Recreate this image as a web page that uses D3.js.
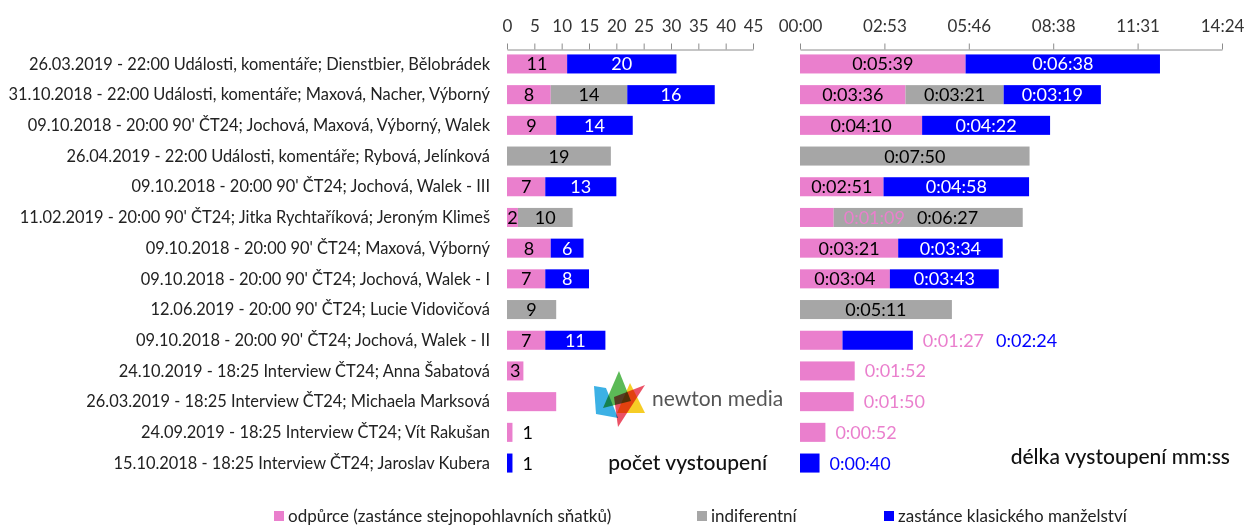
<!DOCTYPE html>
<html>
<head>
<meta charset="utf-8">
<title></title>
<script src="https://d3js.org/d3.v7.min.js"></script>
<style>
  body { margin: 0; background: #fff; font-family: Lato, "Open Sans", sans-serif; }
  svg { display: block; }
  .axis path, .axis line { stroke: #8c8c8c; stroke-width: 1; }
  .axis text { font-family: Lato, sans-serif; font-size: 17px; fill: #333; }
  .val { font-family: Lato, sans-serif; font-size: 18px; }
</style>
</head>
<body>
<script>
// categories (top to bottom)
const categories = [
  "26.03.2019 - 22:00 Události, komentáře; Dienstbier, Bělobrádek",
  "31.10.2018 - 22:00 Události, komentáře; Maxová, Nacher, Výborný",
  "09.10.2018 - 20:00 90' ČT24; Jochová, Maxová, Výborný, Walek",
  "26.04.2019 - 22:00 Události, komentáře; Rybová, Jelínková",
  "09.10.2018 - 20:00 90' ČT24; Jochová, Walek - III",
  "11.02.2019 - 20:00 90' ČT24; Jitka Rychtaříková; Jeroným Klimeš",
  "09.10.2018 - 20:00 90' ČT24; Maxová, Výborný",
  "09.10.2018 - 20:00 90' ČT24; Jochová, Walek - I",
  "12.06.2019 - 20:00 90' ČT24; Lucie Vidovičová",
  "09.10.2018 - 20:00 90' ČT24; Jochová, Walek - II",
  "24.10.2019 - 18:25 Interview ČT24; Anna Šabatová",
  "26.03.2019 - 18:25 Interview ČT24; Michaela Marksová",
  "24.09.2019 - 18:25 Interview ČT24; Vít Rakušan",
  "15.10.2018 - 18:25 Interview ČT24; Jaroslav Kubera"
];

// počet vystoupení
const countAgainst = [11, 8, 9, 0, 7, 2, 8, 7, 0, 7, 3, 9, 1, 0];
const countNeutral = [0, 14, 0, 19, 0, 10, 0, 0, 9, 0, 0, 0, 0, 0];
const countFor     = [20, 16, 14, 0, 13, 0, 6, 8, 0, 11, 0, 0, 0, 1];
const hiddenCountLabels = [11];

// délka vystoupení v sekundách
const timeAgainst = [339, 216, 250, 0, 171, 69, 201, 184, 0, 87, 112, 110, 52, 0];
const timeNeutral = [0, 201, 0, 470, 0, 387, 0, 0, 311, 0, 0, 0, 0, 0];
const timeFor     = [398, 199, 262, 0, 298, 0, 214, 223, 0, 144, 0, 0, 0, 40];

const countTicks = [0, 5, 10, 15, 20, 25, 30, 35, 40, 45];
const timeTicks = [0, 172.8, 345.6, 518.4, 691.2, 864];
const timeTickLabels = ["00:00", "02:53", "05:46", "08:38", "11:31", "14:24"];

const legendLabels = ["odpůrce (zastánce stejnopohlavních sňatků)", "indiferentní", "zastánce klasického manželství"];

const colors = ["#ea7fcd", "#a6a6a6", "#0000ff"];
const inks = ["#000", "#000", "#fff"];

const W = 1245, H = 525;
const svg = d3.select("body").append("svg").attr("width", W).attr("height", H);

const y = d3.scaleBand()
  .domain(d3.range(categories.length))
  .range([48.6, 478.4])
  .paddingInner(0.38)
  .paddingOuter(0.19);

const xCount = d3.scaleLinear().domain([0, 45]).range([507, 753]);
const xTime = d3.scaleLinear().domain([0, 864]).range([800, 1222]);

// axes
svg.append("g").attr("class", "axis")
  .attr("transform", "translate(0,49.5)")
  .call(d3.axisTop(xCount).tickValues(countTicks).tickSize(6).tickPadding(12).tickSizeOuter(0));

svg.append("g").attr("class", "axis")
  .attr("transform", "translate(0,49.5)")
  .call(d3.axisTop(xTime).tickValues(timeTicks).tickSize(6).tickPadding(12).tickSizeOuter(0)
    .tickFormat((d, i) => timeTickLabels[i]));

// category labels, fitted so the second one spans the same width as in the original
const catG = svg.append("g");
const cats = catG.selectAll("text").data(categories).join("text")
  .attr("x", 490)
  .attr("y", (d, i) => y(i) + y.bandwidth() / 2)
  .attr("dy", "0.35em")
  .attr("text-anchor", "end")
  .attr("font-size", 16)
  .attr("fill", "#222")
  .text(d => d);
const refW = cats.nodes()[1].getComputedTextLength();
cats.attr("font-size", Math.min(18, 16 * 482 / refW));

function fmtTime(s) {
  const m = Math.floor(s / 60), sec = s % 60;
  return "0:" + String(m).padStart(2, "0") + ":" + String(sec).padStart(2, "0");
}

function buildRows(a, n, f) {
  return categories.map((c, i) => {
    let start = 0;
    return [a[i], n[i], f[i]].map((v, k) => {
      const s = { v: v, start: start, k: k };
      start += v;
      return s;
    });
  });
}

function drawBars(rows, x) {
  const g = svg.append("g");
  rows.forEach((segs, r) => {
    g.selectAll(null).data(segs.filter(s => s.v > 0)).join("rect")
      .attr("x", s => x(s.start))
      .attr("y", y(r))
      .attr("width", s => x(s.start + s.v) - x(s.start))
      .attr("height", y.bandwidth())
      .attr("fill", s => colors[s.k]);
  });
}

function drawLabels(rows, x, fmt, outsideFill, hidden) {
  const g = svg.append("g").attr("class", "val");
  const gap = 10, gap2 = 12;
  rows.forEach((segs, r) => {
    if (hidden.includes(r)) return;
    const cy = y(r) + y.bandwidth() / 2;
    const barEnd = x(d3.sum(segs, s => s.v));
    let cursor = -Infinity;
    segs.forEach((s, k) => {
      if (!s.v) return;
      const x0 = x(s.start), x1 = x(s.start + s.v);
      const t = g.append("text").text(fmt(s.v)).attr("y", cy).attr("dy", "0.36em");
      const w = t.node().getComputedTextLength();
      let left = (x0 + x1) / 2 - w / 2;
      let inside = w <= x1 - x0;
      if (inside && left < cursor) {
        left = cursor;
        inside = left + w <= x1;
      }
      if (!inside) {
        const next = segs.slice(k + 1).find(n => n.v > 0);
        left = next && next.k === 2 ? barEnd + gap : x1 + gap;
        left = Math.max(left, cursor);
      }
      t.attr("x", left).attr("fill", inside ? inks[s.k] : outsideFill(s));
      cursor = left + w + gap2;
    });
  });
}

const countRows = buildRows(countAgainst, countNeutral, countFor);
const timeRows = buildRows(timeAgainst, timeNeutral, timeFor);

drawBars(countRows, xCount);
drawBars(timeRows, xTime);
drawLabels(countRows, xCount, d => d, () => "#000", hiddenCountLabels);
drawLabels(timeRows, xTime, fmtTime, s => colors[s.k], []);

// titles
svg.append("text").attr("x", 767).attr("y", 470).attr("text-anchor", "end")
  .attr("font-size", 21).attr("font-weight", 500).attr("fill", "#111").text("počet vystoupení");
svg.append("text").attr("x", 1230).attr("y", 464).attr("text-anchor", "end")
  .attr("font-size", 21).attr("font-weight", 500).attr("fill", "#111").text("délka vystoupení mm:ss");

// legend
const legX = [274, 697, 884];
const leg = svg.append("g").selectAll("g").data(legendLabels).join("g")
  .attr("transform", (d, i) => `translate(${legX[i]},511)`);
leg.append("rect").attr("width", 10).attr("height", 10).attr("fill", (d, i) => colors[i]);
leg.append("text").attr("x", 14).attr("y", 5).attr("dy", "0.35em")
  .attr("font-size", 17).attr("fill", "#222").text(d => d);

// logo
const logo = svg.append("g").attr("transform", "translate(594,371)");
const logoShapes = [
  { c: "#1aa3e0", p: [[0, 15], [12, 17], [24, 47], [2, 43]] },
  { c: "#3fae3a", p: [[25, 0], [9, 37], [37, 30]] },
  { c: "#f5c400", p: [[36, 12], [51, 42], [23, 42]] },
  { c: "#e8334a", p: [[51, 14], [24, 56], [20, 26]] }
];
logo.selectAll("polygon").data(logoShapes).join("polygon")
  .attr("points", d => d.p.map(q => q.join(",")).join(" "))
  .attr("fill", d => d.c)
  .attr("fill-opacity", 0.85)
  .style("mix-blend-mode", "multiply");
svg.append("text").attr("x", 652).attr("y", 399).attr("dy", "0.35em")
  .attr("font-size", 21).attr("fill", "#555").text("newton media");
</script>
</body>
</html>
